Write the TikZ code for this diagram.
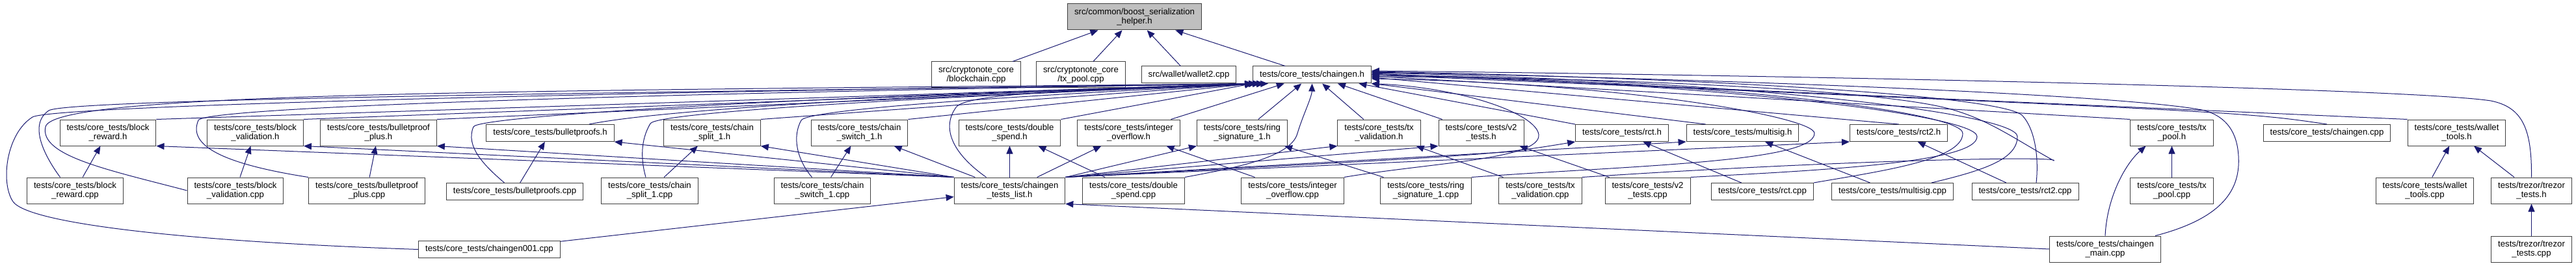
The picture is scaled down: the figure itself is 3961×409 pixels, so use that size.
\documentclass[tikz,border=0pt]{standalone}
\usepackage{fontspec}
\setmainfont{Liberation Sans}
\usetikzlibrary{arrows.meta}
\definecolor{edgeblue}{HTML}{191970}

\begin{document}
\begin{tikzpicture}[x=1pt,y=-1pt,>={Triangle[length=12pt,width=10pt]},
  filebox/.style={draw=black!75,fill=white,line width=1pt,align=center,inner xsep=10.5pt,inner ysep=0pt,minimum height=40pt,font=\fontsize{13.2}{14}\selectfont},
  filebox1/.style={filebox,minimum height=26pt},
  inc/.style={->,draw=edgeblue,line width=1pt}]
  \useasboundingbox (0,0) rectangle (3961,409);
  % top of the graph
  \node[filebox,fill=black!25] (helper) at (1744.5,26) {src/common/boost\_serialization\\\_helper.h};
  \node[filebox] (blockchain_cpp) at (1501,115) {src/cryptonote\_core\\/blockchain.cpp};
  \node[filebox] (core_txpool_cpp) at (1662,115) {src/cryptonote\_core\\/tx\_pool.cpp};
  \node[filebox1] (wallet2_cpp) at (1828,115) {src/wallet/wallet2.cpp};
  \node[filebox1] (chaingen_h) at (2017.5,115) {tests/core\_tests/chaingen.h};
  % headers
  \node[filebox] (block_reward_h) at (166,204) {tests/core\_tests/block\\\_reward.h};
  \node[filebox] (block_validation_h) at (392.5,204) {tests/core\_tests/block\\\_validation.h};
  \node[filebox] (bulletproof_plus_h) at (582,204) {tests/core\_tests/bulletproof\\\_plus.h};
  \node[filebox1] (bulletproofs_h) at (846,204.5) {tests/core\_tests/bulletproofs.h};
  \node[filebox] (chain_split_h) at (1095,204) {tests/core\_tests/chain\\\_split\_1.h};
  \node[filebox] (chain_switch_h) at (1321.5,204) {tests/core\_tests/chain\\\_switch\_1.h};
  \node[filebox] (double_spend_h) at (1552.5,204) {tests/core\_tests/double\\\_spend.h};
  \node[filebox] (integer_overflow_h) at (1735.5,204) {tests/core\_tests/integer\\\_overflow.h};
  \node[filebox] (ring_sig_h) at (1910,204) {tests/core\_tests/ring\\\_signature\_1.h};
  \node[filebox] (tx_validation_h) at (2120.5,204) {tests/core\_tests/tx\\\_validation.h};
  \node[filebox] (v2_tests_h) at (2277.5,204) {tests/core\_tests/v2\\\_tests.h};
  \node[filebox1] (rct_h) at (2494,204.5) {tests/core\_tests/rct.h};
  \node[filebox1] (multisig_h) at (2679.5,204.5) {tests/core\_tests/multisig.h};
  \node[filebox1] (rct2_h) at (2919.5,204.5) {tests/core\_tests/rct2.h};
  \node[filebox] (tx_pool_h) at (3339.5,204) {tests/core\_tests/tx\\\_pool.h};
  \node[filebox1] (chaingen_cpp) at (3578,204.5) {tests/core\_tests/chaingen.cpp};
  \node[filebox] (wallet_tools_h) at (3777.5,204) {tests/core\_tests/wallet\\\_tools.h};
  % sources
  \node[filebox] (block_reward_cpp) at (115.5,293) {tests/core\_tests/block\\\_reward.cpp};
  \node[filebox] (block_validation_cpp) at (362,293) {tests/core\_tests/block\\\_validation.cpp};
  \node[filebox] (bulletproof_plus_cpp) at (564,293) {tests/core\_tests/bulletproof\\\_plus.cpp};
  \node[filebox1] (bulletproofs_cpp) at (791.5,294.5) {tests/core\_tests/bulletproofs.cpp};
  \node[filebox] (chain_split_cpp) at (999,293) {tests/core\_tests/chain\\\_split\_1.cpp};
  \node[filebox] (chain_switch_cpp) at (1264.5,293) {tests/core\_tests/chain\\\_switch\_1.cpp};
  \node[filebox] (tests_list_h) at (1552.5,293) {tests/core\_tests/chaingen\\\_tests\_list.h};
  \node[filebox] (double_spend_cpp) at (1743,293) {tests/core\_tests/double\\\_spend.cpp};
  \node[filebox] (integer_overflow_cpp) at (1987.5,293) {tests/core\_tests/integer\\\_overflow.cpp};
  \node[filebox] (ring_sig_cpp) at (2192.5,293) {tests/core\_tests/ring\\\_signature\_1.cpp};
  \node[filebox] (tx_validation_cpp) at (2368.5,293) {tests/core\_tests/tx\\\_validation.cpp};
  \node[filebox] (v2_tests_cpp) at (2533.5,293) {tests/core\_tests/v2\\\_tests.cpp};
  \node[filebox1] (rct_cpp) at (2710,294.5) {tests/core\_tests/rct.cpp};
  \node[filebox1] (multisig_cpp) at (2910,294.5) {tests/core\_tests/multisig.cpp};
  \node[filebox1] (rct2_cpp) at (3114,294.5) {tests/core\_tests/rct2.cpp};
  \node[filebox] (tx_pool_cpp) at (3339.5,293) {tests/core\_tests/tx\\\_pool.cpp};
  \node[filebox] (wallet_tools_cpp) at (3728.5,293) {tests/core\_tests/wallet\\\_tools.cpp};
  \node[filebox] (trezor_tests_h) at (3892.5,293) {tests/trezor/trezor\\\_tests.h};
  % bottom row
  \node[filebox1] (chaingen001_cpp) at (752.5,383.5) {tests/core\_tests/chaingen001.cpp};
  \node[filebox] (chaingen_main_cpp) at (3237,383) {tests/core\_tests/chaingen\\\_main.cpp};
  \node[filebox] (trezor_tests_cpp) at (3892.5,383) {tests/trezor/trezor\\\_tests.cpp};

  % includes of the helper
  \foreach \src in {blockchain_cpp,core_txpool_cpp,wallet2_cpp,chaingen_h}
    \draw[inc] (\src) -- (helper);
  % straight includes
  \foreach \src/\dst in {block_reward_cpp/block_reward_h,block_validation_cpp/block_validation_h,bulletproof_plus_cpp/bulletproof_plus_h,bulletproofs_cpp/bulletproofs_h,chain_split_cpp/chain_split_h,chain_switch_cpp/chain_switch_h,double_spend_cpp/double_spend_h,integer_overflow_cpp/integer_overflow_h,ring_sig_cpp/ring_sig_h,tx_validation_cpp/tx_validation_h,v2_tests_cpp/v2_tests_h,rct_cpp/rct_h,multisig_cpp/multisig_h,rct2_cpp/rct2_h,tx_pool_cpp/tx_pool_h,wallet_tools_cpp/wallet_tools_h,trezor_tests_h/wallet_tools_h,trezor_tests_cpp/trezor_tests_h,tests_list_h/double_spend_h,tests_list_h/integer_overflow_h,tests_list_h/chain_switch_h,chaingen001_cpp/tests_list_h}
    \draw[inc] (\src) -- (\dst);
  % the test list pulls in every test header
  \foreach \dst in {block_reward_h,block_validation_h,bulletproof_plus_h,bulletproofs_h,chain_split_h}
    \draw[inc] (tests_list_h.north west) -- (\dst.south east);
  \foreach \dst in {ring_sig_h,tx_validation_h,v2_tests_h,multisig_h,rct2_h}
    \draw[inc] (tests_list_h.north east) -- (\dst.south west);
  \draw[inc] (tests_list_h.north east) .. controls (2300,238) .. (rct_h.south west);
  \draw[inc] (chaingen_main_cpp.west) -- (tests_list_h.south east);
  \draw[inc] (chaingen_main_cpp.north) .. controls (3240,300) and (3270,250) .. ([xshift=-40pt]tx_pool_h.south);

  % left fan into chaingen.h
  \foreach \src in {block_reward_h,block_validation_h,bulletproof_plus_h,chain_split_h,chain_switch_h,double_spend_h}
    \draw[inc] (\src.north east) -- (chaingen_h.south west);
  \draw[inc] ([xshift=60pt]bulletproofs_h.north) .. controls (1000,172) and (1300,150) .. ([xshift=6pt]chaingen_h.south west);
  \foreach \src in {integer_overflow_h,ring_sig_h,tx_validation_h,v2_tests_h,rct_h}
    \draw[inc] (\src) -- (chaingen_h);
  \draw[inc] ([xshift=-23pt]block_reward_cpp.north) .. controls (65,235) and (45,190) .. (75,170) .. controls (105,150) and (1200,140) .. ([xshift=12pt]chaingen_h.south west);
  \draw[inc] (block_validation_cpp.west) .. controls (170,262) and (60,240) .. (70,195) .. controls (82,141) and (800,140) .. ([xshift=12pt]chaingen_h.south west);
  \draw[inc] (bulletproof_plus_cpp.north west) .. controls (330,250) and (290,220) .. (305,185) .. controls (313,166) and (900,145) .. ([xshift=12pt]chaingen_h.south west);
  \draw[inc] ([xshift=-16pt]bulletproofs_cpp.north) .. controls (745,255) and (715,225) .. (728,195) .. controls (735,179) and (1200,150) .. ([xshift=18pt]chaingen_h.south west);
  \draw[inc] ([xshift=-6pt]chain_split_cpp.north) .. controls (985,245) and (985,215) .. (1000,190) .. controls (1010,173) and (1400,150) .. ([xshift=18pt]chaingen_h.south west);
  \draw[inc] ([xshift=-16pt]chain_switch_cpp.north) .. controls (1225,245) and (1218,210) .. (1232,185) .. controls (1242,167) and (1600,145) .. ([xshift=18pt]chaingen_h.south west);
  \draw[inc] ([xshift=-36pt]tests_list_h.north) .. controls (1470,240) and (1445,200) .. (1470,165) .. controls (1487,141) and (1700,138) .. ([xshift=24pt]chaingen_h.south west);
  \draw[inc] (chaingen001_cpp.west) .. controls (300,372) and (45,345) .. (20,310) .. controls (0,280) and (10,205) .. (50,180) .. controls (80,162) and (1000,140) .. ([xshift=6pt]chaingen_h.south west);
  \draw[inc] (double_spend_cpp.north east) .. controls (1900,258) and (1985,242) .. (1995,205) .. controls (2003,178) and (2017,150) .. (chaingen_h.south);
  \draw[inc] (integer_overflow_cpp.north east) .. controls (2200,250) and (2370,245) .. (2366,207) .. controls (2362,175) and (2250,135) .. (chaingen_h.south east);

  % right fan into chaingen.h
  \draw[inc] ([xshift=30pt]multisig_h.north west) -- (chaingen_h.south east);
  \draw[inc] (rct2_h.north) -- ([yshift=-4pt]chaingen_h.east);
  \draw[inc] (tx_pool_h.north west) -- ([yshift=-2pt]chaingen_h.east);
  \draw[inc] (chaingen_cpp.north) .. controls (3450,172) .. (chaingen_h.east);
  \draw[inc] (wallet_tools_h.north west) -- ([yshift=2pt]chaingen_h.east);
  \draw[inc] (ring_sig_cpp.north east) .. controls (2500,255) and (2790,250) .. (2790,205) .. controls (2790,180) and (2500,128) .. ([yshift=-6pt]chaingen_h.east);
  \draw[inc] (tx_validation_cpp.north east) .. controls (2850,245) and (3170,240) .. (3158,247) .. controls (3100,215) and (3060,185) .. (3000,168) .. controls (2880,134) and (2400,118) .. ([yshift=-3pt]chaingen_h.east);
  \draw[inc] (v2_tests_cpp.north east) .. controls (2800,262) and (3040,250) .. (3040,210) .. controls (3040,175) and (2600,125) .. (chaingen_h.east);
  \draw[inc] (rct_cpp.north east) .. controls (2900,262) and (3018,245) .. (3018,205) .. controls (3018,170) and (2600,122) .. (chaingen_h.east);
  \draw[inc] ([xshift=60pt]multisig_cpp.north) .. controls (3050,262) and (3102,245) .. (3102,210) .. controls (3102,175) and (2700,125) .. ([yshift=3pt]chaingen_h.east);
  \draw[inc] ([xshift=17pt]rct2_cpp.north) .. controls (3135,245) and (3130,200) .. (3110,178) .. controls (3085,150) and (2700,122) .. ([yshift=5pt]chaingen_h.east);
  \draw[inc] ([xshift=77pt]chaingen_main_cpp.north) .. controls (3420,335) and (3445,290) .. (3442,240) .. controls (3440,205) and (3425,180) .. (3390,170) .. controls (3300,150) and (2800,125) .. ([yshift=4pt]chaingen_h.east);
  \draw[inc] (trezor_tests_h.north) .. controls (3893,200) and (3880,165) .. (3830,155) .. controls (3700,135) and (2700,115) .. ([yshift=6pt]chaingen_h.east);
\end{tikzpicture}
\end{document}
